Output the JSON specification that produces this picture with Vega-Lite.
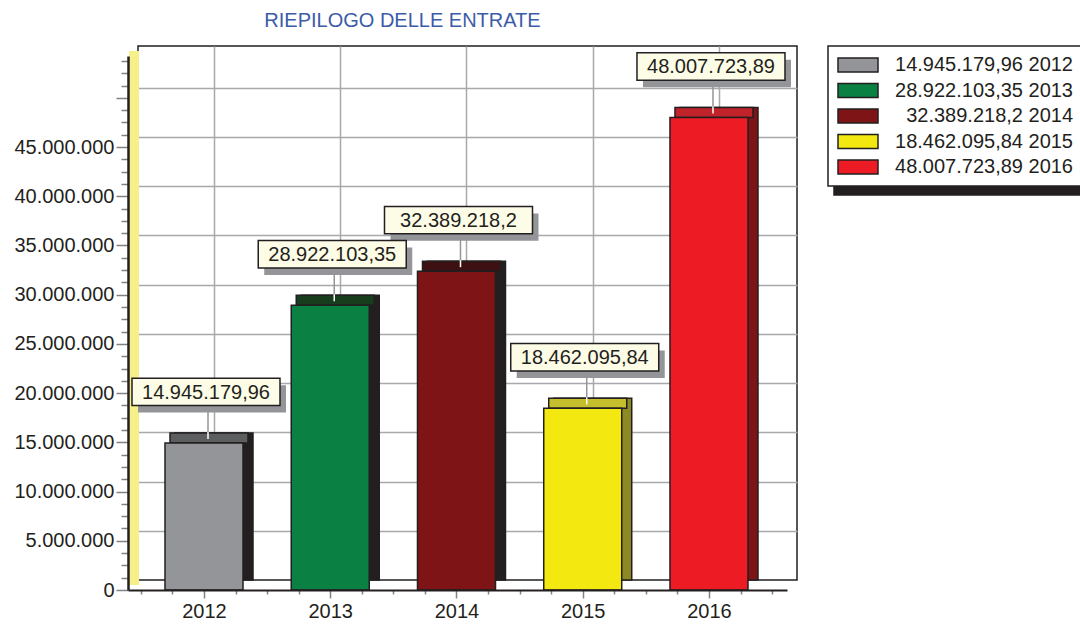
{
  "$schema": "https://vega.github.io/schema/vega-lite/v6.json",
  "width": 659,
  "height": 534,
  "autosize": {"type": "none"},
  "padding": {"left": 138, "top": 46, "right": 283, "bottom": 44},
  "background": "white",
  "title": {
    "text": "RIEPILOGO DELLE ENTRATE",
    "fontSize": 20,
    "font": "Liberation Sans",
    "fontWeight": "normal",
    "color": "#3b5ca8",
    "anchor": "middle",
    "frame": "group",
    "dx": -65,
    "offset": -6,
    "baseline": "alphabetic"
  },
  "config": {
    "font": "Liberation Sans",
    "locale": {"number": {"decimal": ",", "thousands": ".", "grouping": [3], "currency": ["", " €"]}},
    "view": {"fill": "white", "stroke": "#231f20", "strokeWidth": 1.5},
    "legend": {
      "symbolType": "M-1,-0.35H1V0.35H-1Z",
      "symbolSize": 1600,
      "symbolStrokeColor": "#231f20",
      "symbolStrokeWidth": 1.5,
      "labelFontSize": 20,
      "labelFont": "Liberation Sans",
      "labelColor": "#231f20",
      "labelAlign": "right",
      "labelOffset": 194,
      "labelLimit": 300,
      "clipHeight": 20,
      "padding": 9,
      "rowPadding": 5.5,
      "strokeWidth": 1.5
    }
  },
  "data": {
    "values": [
      {"anno": 2012, "valore": 14945179.96, "voce": "14.945.179,96 2012"},
      {"anno": 2013, "valore": 28922103.35, "voce": "28.922.103,35 2013"},
      {"anno": 2014, "valore": 32389218.2, "voce": "32.389.218,2 2014"},
      {"anno": 2015, "valore": 18462095.84, "voce": "18.462.095,84 2015"},
      {"anno": 2016, "valore": 48007723.89, "voce": "48.007.723,89 2016"}
    ]
  },
  "resolve": {
    "scale": {"color": "independent"},
    "axis": {"x": "independent", "y": "independent"}
  },
  "layer": [
    {
      "mark": {"type": "bar", "width": 78, "stroke": "#231f20", "strokeWidth": 1.5},
      "encoding": {
        "x": {
          "field": "anno", "type": "quantitative",
          "scale": {"domain": [2011.398, 2016.618], "nice": false, "zero": false, "padding": 0},
          "axis": {"orient": "top", "grid": true, "values": [2012, 2013, 2014, 2015, 2016], "domain": false, "ticks": false, "labels": false, "gridColor": "#a7a9ac", "gridWidth": 1.5, "title": null}
        },
        "y": {
          "field": "valore", "type": "quantitative",
          "scale": {"domain": [0, 54250000], "nice": false},
          "axis": {"orient": "right", "grid": true, "values": [5000000, 10000000, 15000000, 20000000, 25000000, 30000000, 35000000, 40000000, 45000000, 50000000], "domain": false, "ticks": false, "labels": false, "gridColor": "#a7a9ac", "gridWidth": 1.5, "title": null}
        },
        "color": {
          "field": "voce", "type": "nominal", "sort": {"field": "anno", "op": "min"},
          "scale": {"range": ["#231f20", "#231f20", "#231f20", "#8d8a26", "#7d1416"]},
          "legend": null
        }
      }
    },
    {
      "mark": {"type": "bar", "width": 78, "xOffset": -5, "y2Offset": 10, "stroke": "#231f20", "strokeWidth": 1.5},
      "encoding": {
        "x": {
          "field": "anno", "type": "quantitative",
          "axis": {
            "orient": "bottom",
            "values": [2011.5, 2011.75, 2012, 2012.25, 2012.5, 2012.75, 2013, 2013.25, 2013.5, 2013.75, 2014, 2014.25, 2014.5, 2014.75, 2015, 2015.25, 2015.5, 2015.75, 2016, 2016.25, 2016.5],
            "labelExpr": "datum.value % 1 === 0 ? '' + datum.value : ''",
            "tickSize": {"condition": {"test": "datum.value % 1 === 0", "value": 8}, "value": 4},
            "offset": 20, "translate": -9.5, "grid": false, "zindex": 1,
            "domainColor": "#231f20", "domainWidth": 2, "tickColor": "#808285", "tickWidth": 1.5,
            "labelFontSize": 20, "labelColor": "#231f20", "labelPadding": 3, "labelOverlap": false, "labelFlush": false, "title": null
          }
        },
        "y": {
          "field": "valore", "type": "quantitative",
          "axis": {
            "orient": "left",
            "values": [0, 1250000, 2500000, 3750000, 5000000, 6250000, 7500000, 8750000, 10000000, 11250000, 12500000, 13750000, 15000000, 16250000, 17500000, 18750000, 20000000, 21250000, 22500000, 23750000, 25000000, 26250000, 27500000, 28750000, 30000000, 31250000, 32500000, 33750000, 35000000, 36250000, 37500000, 38750000, 40000000, 41250000, 42500000, 43750000, 45000000, 46250000, 47500000, 48750000, 50000000, 51250000, 52500000, 53750000],
            "format": ",.0f",
            "labelExpr": "(datum.value % 5000000 === 0 && datum.value < 50000000) ? datum.label : ''",
            "tickSize": {"condition": {"test": "datum.value % 5000000 === 0", "value": 12}, "value": 7},
            "offset": 20, "translate": 10.5, "grid": false, "zindex": 1,
            "domainColor": "#231f20", "domainWidth": 2.5, "tickColor": "#808285", "tickWidth": 1.5,
            "labelFontSize": 20, "labelColor": "#231f20", "labelPadding": 2, "labelOverlap": false, "title": null
          }
        },
        "y2": {"field": "valore"},
        "color": {
          "field": "voce", "type": "nominal", "sort": {"field": "anno", "op": "min"},
          "scale": {"range": ["#5d5e60", "#173d1d", "#3d1011", "#c6bf2d", "#c1232a"]},
          "legend": null
        }
      }
    },
    {
      "mark": {"type": "bar", "width": 78, "xOffset": -10, "yOffset": 10, "y2Offset": 10, "strokeWidth": 1.5},
      "encoding": {
        "x": {"field": "anno", "type": "quantitative", "axis": null},
        "y": {
          "field": "valore", "type": "quantitative",
          "axis": {"orient": "left", "offset": 9, "translate": 5, "domainColor": "#f6f08a", "domainWidth": 10, "ticks": false, "labels": false, "grid": false, "title": null}
        },
        "color": {
          "field": "voce", "type": "nominal", "sort": {"field": "anno", "op": "min"},
          "scale": {"range": ["#939598", "#0b8043", "#7e1416", "#f3e80f", "#ed1c24"]},
          "legend": {"title": null, "orient": "right", "offset": 31, "fillColor": "white", "strokeColor": "#231f20", "zindex": 2}
        },
        "stroke": {
          "field": "voce", "type": "nominal", "sort": {"field": "anno", "op": "min"},
          "scale": {"range": ["#231f20"]},
          "legend": {"title": null, "orient": "none", "legendX": 696, "legendY": 9, "fillColor": "#231f20", "strokeColor": "#231f20", "labelColor": "#231f20", "labelExpr": "''", "zindex": 1}
        }
      }
    },
    {
      "mark": {"type": "rule", "xOffset": -6, "yOffset": -28, "y2Offset": -1, "color": "#939598", "strokeWidth": 1.5},
      "encoding": {
        "x": {"field": "anno", "type": "quantitative", "axis": null},
        "y": {"field": "valore", "type": "quantitative", "axis": null},
        "y2": {"field": "valore"}
      }
    },
    {
      "mark": {"type": "rule", "xOffset": -6, "yOffset": -1, "y2Offset": 6, "color": "white", "strokeWidth": 1.5},
      "encoding": {
        "x": {"field": "anno", "type": "quantitative", "axis": null},
        "y": {"field": "valore", "type": "quantitative", "axis": null},
        "y2": {"field": "valore"}
      }
    },
    {
      "mark": {"type": "point", "shape": "M-1,-0.185H1V0.185H-1Z", "size": 21904, "filled": true, "fill": "#939598", "opacity": 1, "strokeWidth": 0, "xOffset": -2, "yOffset": -34},
      "encoding": {
        "x": {"field": "anno", "type": "quantitative", "axis": null},
        "y": {"field": "valore", "type": "quantitative", "axis": null}
      }
    },
    {
      "mark": {"type": "point", "shape": "M-1,-0.185H1V0.185H-1Z", "size": 21904, "filled": true, "fill": "#fdfce6", "stroke": "#231f20", "strokeWidth": 1.5, "opacity": 1, "xOffset": -8, "yOffset": -41},
      "encoding": {
        "x": {"field": "anno", "type": "quantitative", "axis": null},
        "y": {"field": "valore", "type": "quantitative", "axis": null}
      }
    },
    {
      "mark": {"type": "text", "fontSize": 20, "font": "Liberation Sans", "color": "#231f20", "align": "center", "baseline": "middle", "xOffset": -8, "yOffset": -40},
      "encoding": {
        "x": {"field": "anno", "type": "quantitative", "axis": null},
        "y": {"field": "valore", "type": "quantitative", "axis": null},
        "text": {"field": "valore", "type": "quantitative", "format": ",.2~f"}
      }
    }
  ]
}
